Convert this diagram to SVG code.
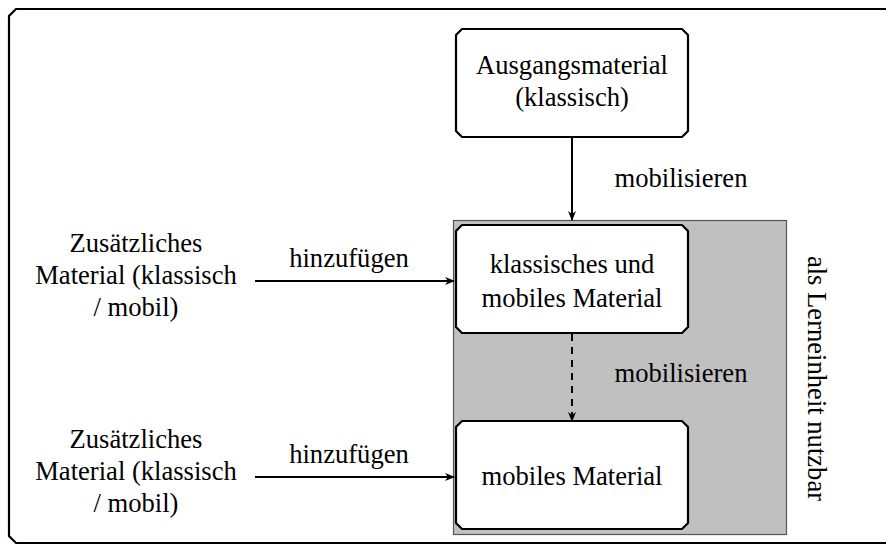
<svg xmlns="http://www.w3.org/2000/svg" width="886" height="545" viewBox="0 0 886 545">
<style>
text{font-family:"Liberation Serif","Times New Roman",serif;font-size:26.6px;fill:#000;}
.c{text-anchor:middle;}
.box{fill:#fff;stroke:#000;stroke-width:2.2;}
.ln{stroke:#000;stroke-width:2;fill:none;}
</style>
<defs>
<marker id="ah" markerWidth="10" markerHeight="8" refX="9" refY="4" orient="auto" markerUnits="userSpaceOnUse">
<path d="M0,0 L10,4 L0,8 L3,4 Z" fill="#000"/>
</marker>
</defs>
<rect width="886" height="545" fill="#fff"/>
<path d="M900,9 L16,9 L9,16 L9,536 L16,543 L900,543" fill="none" stroke="#000" stroke-width="2.2"/>
<g id="area">
<rect x="453.5" y="220.5" width="333" height="314" fill="#c0c0c0" stroke="#555" stroke-width="1.2"/>
<text transform="translate(808,378.5) rotate(90)" class="c">als Lerneinheit nutzbar</text>
</g>
<g id="n1">
<path class="box" d="M462,29 L682,29 L688,35 L688,131 L682,137 L462,137 L456,131 L456,35 Z"/>
<text x="572" y="74" class="c">Ausgangsmaterial</text>
<text x="572" y="106" class="c">(klassisch)</text>
</g>
<g id="n2">
<path class="box" d="M462,225 L682,225 L688,231 L688,327 L682,333 L462,333 L456,327 L456,231 Z"/>
<text x="572" y="273" class="c">klassisches und</text>
<text x="572" y="307" class="c">mobiles Material</text>
</g>
<g id="n3">
<path class="box" d="M462,421 L682,421 L688,427 L688,523 L682,529 L462,529 L456,523 L456,427 Z"/>
<text x="572" y="485" class="c">mobiles Material</text>
</g>
<g id="s1">
<text x="136" y="252" class="c">Zusätzliches</text>
<text x="136" y="284" class="c">Material (klassisch</text>
<text x="136" y="316" class="c">/ mobil)</text>
</g>
<g id="s2">
<text x="136" y="448" class="c">Zusätzliches</text>
<text x="136" y="480" class="c">Material (klassisch</text>
<text x="136" y="512" class="c">/ mobil)</text>
</g>
<g id="connectors">
<line class="ln" x1="572" y1="137" x2="572" y2="220" marker-end="url(#ah)"/>
<text x="681" y="187" class="c">mobilisieren</text>
<line class="ln" x1="572" y1="334" x2="572" y2="421" stroke-dasharray="7,6" marker-end="url(#ah)"/>
<text x="681" y="382" class="c">mobilisieren</text>
<line class="ln" x1="255" y1="281" x2="454" y2="281" marker-end="url(#ah)"/>
<text x="349" y="267" class="c">hinzufügen</text>
<line class="ln" x1="255" y1="477" x2="454" y2="477" marker-end="url(#ah)"/>
<text x="349" y="463" class="c">hinzufügen</text>
</g>
</svg>
